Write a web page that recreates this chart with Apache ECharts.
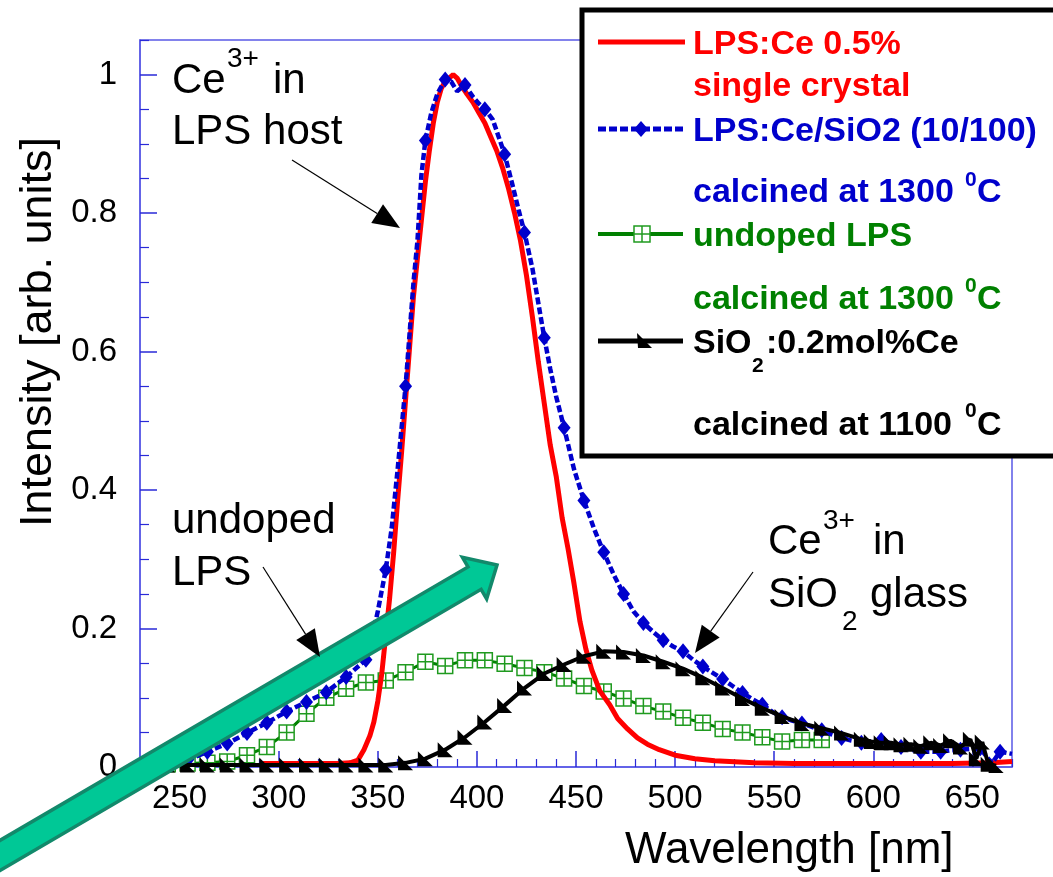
<!DOCTYPE html>
<html><head><meta charset="utf-8">
<script src="https://cdn.jsdelivr.net/npm/echarts@6/dist/echarts.min.js"></script>
<style>html,body{margin:0;padding:0;background:#fff}#c{width:1053px;height:877px}</style>
</head><body><div id="c"></div>
<script>
// ---------- data ----------
const redWl = [292,300,310,320,330,336,340,343,346,348,350,352,354,356,358,360,362,364,366,368,370,372,374,376,378,380,382,384,386,388,390,392,395,398,401,404,407,410,413,416,419,422,425,428,431,434,437,440,443,446,449,452,455,458,462,467,471,476,481,486,492,500,510,520,540,560,580,600,620,640,660,670];
const redVal = [0.005,0.005,0.005,0.005,0.005,0.006,0.01,0.025,0.045,0.065,0.095,0.135,0.19,0.245,0.31,0.385,0.455,0.53,0.605,0.68,0.735,0.79,0.845,0.89,0.93,0.96,0.98,0.99,0.995,1.0,0.995,0.985,0.972,0.96,0.945,0.93,0.91,0.89,0.865,0.835,0.80,0.76,0.71,0.65,0.585,0.525,0.465,0.42,0.36,0.315,0.265,0.21,0.17,0.14,0.11,0.09,0.07,0.055,0.042,0.033,0.025,0.017,0.012,0.009,0.006,0.005,0.005,0.005,0.005,0.005,0.006,0.008];

const blueWl = [244,254,264,274,284,294,304,314,324,334,344,347,350,354,357,360,362,364,366,368,370,372,374,377,380,384,387,390,394,398,401,404,408,411,414,418,421,424,428,431,434,437,440,444,449,454,459,464,469,474,479,484,489,494,499,504,509,514,519,524,529,534,539,544,549,554,559,564,569,574,579,584,589,594,599,604,609,614,619,624,629,634,639,644,649,654,658,660,664,670];
const blueVal = [0.003,0.01,0.022,0.034,0.049,0.064,0.08,0.094,0.108,0.13,0.155,0.185,0.225,0.285,0.345,0.43,0.49,0.55,0.625,0.70,0.76,0.855,0.905,0.945,0.972,0.993,0.99,0.976,0.985,0.968,0.958,0.95,0.935,0.91,0.885,0.84,0.805,0.772,0.72,0.67,0.62,0.575,0.535,0.49,0.43,0.385,0.345,0.31,0.278,0.25,0.225,0.208,0.195,0.183,0.174,0.167,0.155,0.145,0.136,0.127,0.117,0.107,0.098,0.09,0.08,0.072,0.067,0.063,0.058,0.053,0.047,0.042,0.038,0.035,0.037,0.039,0.034,0.029,0.025,0.022,0.022,0.022,0.024,0.025,0.026,0.027,0.012,0.006,0.022,0.019];

const greenWl = [244,254,264,274,284,294,304,314,324,334,344,354,364,374,384,394,404,414,424,434,444,454,464,474,484,494,504,514,524,534,544,554,564,574];
const greenVal = [0.004,0.005,0.006,0.008,0.017,0.029,0.05,0.077,0.1,0.113,0.122,0.125,0.137,0.152,0.146,0.154,0.154,0.149,0.143,0.137,0.128,0.117,0.109,0.099,0.088,0.08,0.071,0.064,0.055,0.05,0.043,0.037,0.039,0.039];

const blackWl = [244,254,264,274,284,294,304,314,324,334,344,354,364,374,384,394,404,414,424,434,444,454,464,474,484,494,504,514,524,534,544,554,564,574,584,594,599,604,609,614,619,624,629,634,639,644,649,652,655,658,662];
const blackVal = [0.003,0.003,0.003,0.003,0.003,0.003,0.003,0.003,0.003,0.003,0.003,0.003,0.006,0.012,0.025,0.043,0.065,0.089,0.114,0.135,0.148,0.16,0.167,0.166,0.161,0.152,0.142,0.129,0.114,0.099,0.085,0.073,0.063,0.056,0.049,0.04,0.037,0.035,0.035,0.032,0.033,0.03,0.035,0.031,0.038,0.029,0.04,0.012,0.036,0.004,0.002];

const xMajorTicks = [250,300,350,400,450,500,550,600,650];
const xMinorTicks = [240,260,270,280,290,310,320,330,340,360,370,380,390,410,420,430,440,460,470,480,490,510,520,530,540,560,570,580,590,610,620,630,640,660,670];
const yMajorTicks = [0,0.2,0.4,0.6,0.8,1];
const yMinorTicks = [0.05,0.1,0.15,0.25,0.3,0.35,0.45,0.5,0.55,0.65,0.7,0.75,0.85,0.9,0.95,1.05];

const legendNames = ['LPS:Ce 0.5%', 'single crystal', 'LPS:Ce/SiO2 (10/100)', 'calcined at 1300 ', 'undoped LPS', 'calcined at 1300 ', 'SiO', ':0.2mol%Ce', 'calcined at 1100 '];

// ---------- styling ----------
const FONT = "'Liberation Sans', Arial, Helvetica, sans-serif";
const AXC = '#5a5ae6', TKC = '#2a2ad8';
const RED = '#ff0000', BLUE = '#0000cc', GREEN = '#008000', BLACK = '#000000';
const GRIDSQ = 'path://M0,0H16V16H0Z M8,0V16 M0,8H16';
const TRI = 'path://M0,0L0,10L10,10Z';

function pts(w, v) { return w.map((x, i) => [x, v[i]]); }

const chart = echarts.init(document.getElementById('c'), null, {renderer: 'canvas'});

function txt(x, base, s, size, color, weight) {
  return {type: 'text', x: x, y: base - 0.3465 * size, z: 100, silent: true,
    style: {text: s, fontSize: size, fontFamily: FONT, fontWeight: weight || 'normal', fill: color || '#000',
      align: 'left', textAlign: 'left', verticalAlign: 'middle', textVerticalAlign: 'middle'}};
}
function arrow(x1, y1, x2, y2, hl, hw) {
  const dx = x2 - x1, dy = y2 - y1, L = Math.hypot(dx, dy), ux = dx / L, uy = dy / L;
  const bx = x2 - ux * hl, by = y2 - uy * hl;
  return [
    {type: 'line', z: 100, silent: true, shape: {x1: x1, y1: y1, x2: bx, y2: by}, style: {stroke: '#000', lineWidth: 1.2}},
    {type: 'polygon', z: 100, silent: true, shape: {points: [[x2, y2], [bx - uy * hw, by + ux * hw], [bx + uy * hw, by - ux * hw]]}, style: {fill: '#000'}}
  ];
}
function bigArrow() {
  const tip = [497, 565], ang = 30.3 * Math.PI / 180;
  const d = [Math.cos(ang), -Math.sin(ang)], n = [Math.sin(ang), Math.cos(ang)];
  const hl = 26, hw = 24, sw = 13, tail = 720;
  const B = [tip[0] - d[0] * hl, tip[1] - d[1] * hl];
  const T = [B[0] - d[0] * tail, B[1] - d[1] * tail];
  const p = (P, k) => [P[0] + n[0] * k, P[1] + n[1] * k];
  return {type: 'polygon', z: 90, silent: true,
    shape: {points: [tip, p(B, -hw), p(B, -sw), p(T, -sw), p(T, sw), p(B, sw), p(B, hw)]},
    style: {fill: '#00c896', stroke: '#12896b', lineWidth: 3.5, lineJoin: 'miter'}};
}

const LX = 693, LFS = 34;
const graphics = [
  // y axis name
  {type: 'text', x: 39, y: 332, rotation: Math.PI / 2, z: 100, silent: true,
    style: {text: 'Intensity [arb. units]', fontSize: 45, fontFamily: FONT, fill: '#000',
      align: 'center', textAlign: 'center', verticalAlign: 'middle', textVerticalAlign: 'middle'}},
  // x axis name
  txt(625, 866, 'Wavelength [nm]', 44, '#000'),
  // legend box
  {type: 'rect', z: 80, silent: true, shape: {x: 582, y: 10, width: 480, height: 446},
    style: {fill: '#fff', stroke: '#000', lineWidth: 5}},
  {type: 'line', z: 81, silent: true, shape: {x1: 598, y1: 42, x2: 685, y2: 42}, style: {stroke: RED, lineWidth: 5}},
  {type: 'line', z: 81, silent: true, shape: {x1: 598, y1: 129, x2: 685, y2: 129}, style: {stroke: BLUE, lineWidth: 5, lineDash: [8, 3]}},
  {type: 'polygon', z: 82, silent: true, shape: {points: [[641, 121], [648, 129], [641, 137], [634, 129]]}, style: {fill: BLUE}},
  {type: 'line', z: 81, silent: true, shape: {x1: 598, y1: 234, x2: 683, y2: 234}, style: {stroke: GREEN, lineWidth: 4}},
  {type: 'rect', z: 82, silent: true, shape: {x: 634, y: 226, width: 16, height: 16}, style: {fill: '#fff', stroke: '#1f9a1f', lineWidth: 1.5}},
  {type: 'line', z: 83, silent: true, shape: {x1: 642, y1: 226, x2: 642, y2: 242}, style: {stroke: '#1f9a1f', lineWidth: 1.5}},
  {type: 'line', z: 83, silent: true, shape: {x1: 634, y1: 234, x2: 650, y2: 234}, style: {stroke: '#1f9a1f', lineWidth: 1.5}},
  {type: 'line', z: 81, silent: true, shape: {x1: 598, y1: 341, x2: 683, y2: 341}, style: {stroke: BLACK, lineWidth: 5}},
  {type: 'polygon', z: 82, silent: true, shape: {points: [[637, 333], [638, 348], [652, 348]]}, style: {fill: BLACK}},
  txt(LX, 56, legendNames[0], LFS, RED, 'bold'),
  txt(LX, 98, legendNames[1], LFS, RED, 'bold'),
  txt(LX, 143, legendNames[2], LFS, BLUE, 'bold'),
  txt(LX, 204, legendNames[3], LFS, BLUE, 'bold'),
  txt(965, 187, '0', 21, BLUE, 'bold'),
  txt(977, 204, 'C', LFS, BLUE, 'bold'),
  txt(LX, 248, legendNames[4], LFS, GREEN, 'bold'),
  txt(LX, 311, legendNames[5], LFS, GREEN, 'bold'),
  txt(965, 293, '0', 21, GREEN, 'bold'),
  txt(977, 311, 'C', LFS, GREEN, 'bold'),
  txt(LX, 355, legendNames[6], LFS, BLACK, 'bold'),
  txt(752, 373, '2', 21, BLACK, 'bold'),
  txt(766, 355, legendNames[7], LFS, BLACK, 'bold'),
  txt(LX, 437, legendNames[8], LFS, BLACK, 'bold'),
  txt(965, 418, '0', 21, BLACK, 'bold'),
  txt(977, 437, 'C', LFS, BLACK, 'bold'),
  // annotations
  txt(172, 96, 'Ce', 42), txt(227, 69, '3+', 28), txt(273, 96, 'in', 42),
  txt(172, 147, 'LPS host', 42),
  txt(172, 536, 'undoped', 42), txt(172, 588, 'LPS', 42),
  txt(768, 557, 'Ce', 42), txt(823, 531, '3+', 28), txt(873, 557, 'in', 42),
  txt(768, 610, 'SiO', 42), txt(842, 632, '2', 28), txt(870, 610, 'glass', 42),
  ...arrow(292, 160, 400, 228, 27, 11),
  ...arrow(263, 567, 320, 657, 27, 11),
  ...arrow(753, 572, 695, 653, 27, 11),
  bigArrow()
];

const option = {
  animation: false,
  backgroundColor: '#fff',
  grid: {left: 140, right: 41, top: 40, bottom: 110, show: true, borderColor: AXC, borderWidth: 1.5, backgroundColor: 'transparent'},
  xAxis: [
    {type: 'value', min: 230, max: 670, position: 'bottom',
      axisLine: {show: true, lineStyle: {color: AXC, width: 1.5}},
      axisTick: {show: true, inside: true, length: 16, customValues: xMajorTicks, lineStyle: {color: TKC, width: 1.5}},
      axisLabel: {show: true, customValues: xMajorTicks, fontSize: 33, color: '#000', fontFamily: FONT, margin: 15},
      splitLine: {show: false}},
    {type: 'value', min: 230, max: 670, position: 'bottom',
      axisLine: {show: false},
      axisTick: {show: true, inside: true, length: 8, customValues: xMinorTicks, lineStyle: {color: TKC, width: 1.2}},
      axisLabel: {show: false}, splitLine: {show: false}}
  ],
  yAxis: [
    {type: 'value', min: 0, max: 1.05, position: 'left',
      axisLine: {show: true, lineStyle: {color: AXC, width: 1.5}},
      axisTick: {show: true, inside: true, length: 17, customValues: yMajorTicks, lineStyle: {color: TKC, width: 1.5}},
      axisLabel: {show: true, customValues: yMajorTicks, fontSize: 33, color: '#000', fontFamily: FONT, margin: 23},
      splitLine: {show: false}},
    {type: 'value', min: 0, max: 1.05, position: 'left',
      axisLine: {show: false},
      axisTick: {show: true, inside: true, length: 9, customValues: yMinorTicks, lineStyle: {color: TKC, width: 1.2}},
      axisLabel: {show: false}, splitLine: {show: false}}
  ],
  series: [
    {name: 'undoped LPS', type: 'line', xAxisIndex: 0, yAxisIndex: 0, data: pts(greenWl, greenVal), z: 2,
      lineStyle: {color: GREEN, width: 3}, symbol: GRIDSQ, symbolSize: 15, showSymbol: true,
      itemStyle: {color: '#ffffff', borderColor: '#1f9a1f', borderWidth: 1.5}, emphasis: {disabled: true}, silent: true},
    {name: 'LPS:Ce 0.5% single crystal', type: 'line', xAxisIndex: 0, yAxisIndex: 0, data: pts(redWl, redVal), z: 3,
      lineStyle: {color: RED, width: 5}, symbol: 'none', emphasis: {disabled: true}, silent: true},
    {name: 'LPS:Ce/SiO2 (10/100)', type: 'line', xAxisIndex: 0, yAxisIndex: 0, data: pts(blueWl, blueVal), z: 4,
      lineStyle: {color: BLUE, width: 4.5, type: [7, 3]}, symbol: 'diamond', showSymbol: true,
      symbolSize: function (v) { return (v[0] % 10 === 4) ? [13, 16] : 0; },
      itemStyle: {color: BLUE}, emphasis: {disabled: true}, silent: true},
    {name: 'SiO2:0.2mol%Ce', type: 'line', xAxisIndex: 0, yAxisIndex: 0, data: pts(blackWl, blackVal), z: 5,
      lineStyle: {color: BLACK, width: 4}, symbol: TRI, symbolSize: 15, showSymbol: true,
      itemStyle: {color: BLACK}, emphasis: {disabled: true}, silent: true}
  ],
  graphic: {elements: graphics}
};
chart.setOption(option);
</script>
</body></html>
